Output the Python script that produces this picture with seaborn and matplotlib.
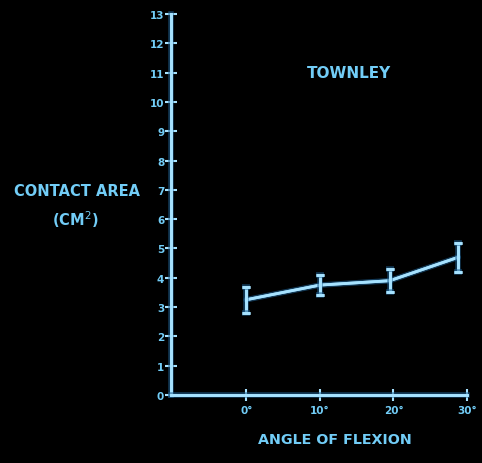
import matplotlib
matplotlib.use("Agg")
import matplotlib.pyplot as plt
import matplotlib.patheffects as pe
import pandas as pd
import seaborn as sns

# data
angle = [0, 10, 19.5, 28.8]
area = [3.25, 3.75, 3.9, 4.7]
err = [0.45, 0.35, 0.4, 0.5]
y_ticks = list(range(0, 14))
x_ticks = [0, 10, 20, 30]
x_labels = ["0°", "10°", "20°", "30°"]

df = pd.DataFrame({"angle": angle, "area": area, "err": err})

fg = "#a6e2ff"
txt = "#72cdf7"
glow = [pe.withStroke(linewidth=4, foreground="#1f5f8f", alpha=0.6), pe.Normal()]

sns.set_style("dark", {"axes.facecolor": "black", "figure.facecolor": "black"})
plt.rcParams["font.family"] = ["DejaVu Sans"]

fig = plt.figure(figsize=(4.82, 4.64), dpi=100)
ax = fig.add_axes([0.355, 0.1466, 0.614, 0.821])

sns.lineplot(data=df, x="angle", y="area", ax=ax, color=fg, linewidth=2, path_effects=glow)
ax.errorbar(df["angle"], df["area"], yerr=df["err"], fmt="none", ecolor=fg,
            elinewidth=2, capsize=3, capthick=2, path_effects=glow)

ax.set_xlim(-10.2, 30)
ax.set_ylim(0, 13)
ax.grid(False)
for s in ["top", "right"]:
    ax.spines[s].set_visible(False)
for s in ["left", "bottom"]:
    ax.spines[s].set_color(fg)
    ax.spines[s].set_linewidth(2)
    ax.spines[s].set_path_effects(glow)

ax.set_yticks(y_ticks)
ax.set_xticks(x_ticks)
ax.set_xticklabels(x_labels)
ax.tick_params(axis="both", direction="inout", length=8, width=1.5, colors=fg,
               labelcolor=txt, labelsize=7.5, bottom=True, left=True)
ax.tick_params(axis="y", pad=1)
ax.tick_params(axis="x", pad=3)
for lbl in ax.get_yticklabels() + ax.get_xticklabels():
    lbl.set_fontweight("bold")

ax.set_xlabel("")
ax.set_ylabel("")

fig.text(349 / 482, 1 - 73 / 464, "TOWNLEY", color=txt, fontsize=11, fontweight="bold",
         ha="center", va="center")
fig.text(77 / 482, 1 - 192 / 464, "CONTACT AREA", color=txt, fontsize=10.5, fontweight="bold",
         ha="center", va="center")
fig.text(75 / 482, 1 - 220 / 464, "(CM$^2$)", color=txt, fontsize=10.5, fontweight="bold",
         ha="center", va="center")
fig.text(335 / 482, 1 - 440 / 464, "ANGLE OF FLEXION", color=txt, fontsize=10.3, fontweight="bold",
         ha="center", va="center")

fig.savefig("out.png", dpi=100, facecolor="black")
